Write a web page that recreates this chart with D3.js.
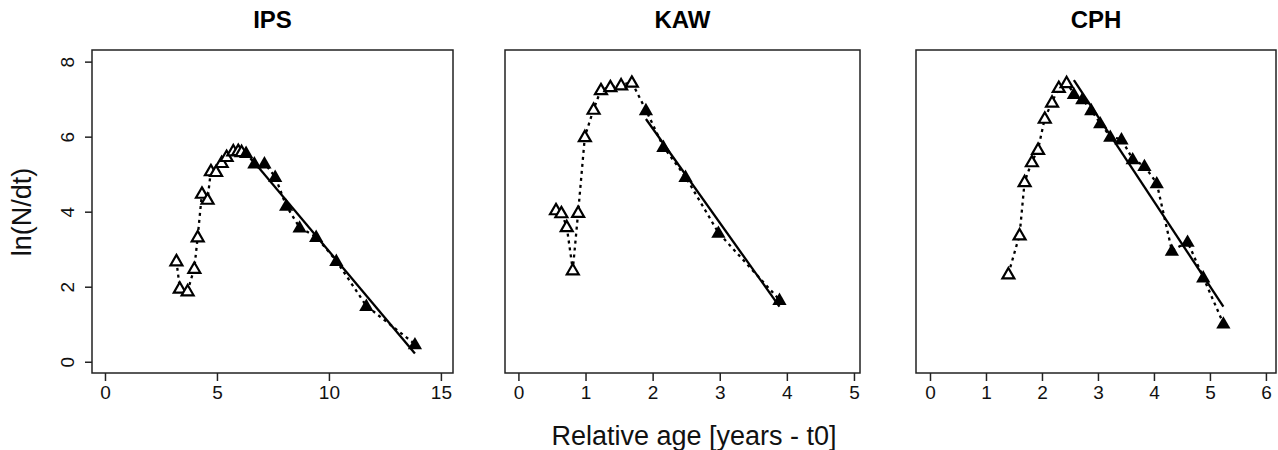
<!DOCTYPE html>
<html>
<head>
<meta charset="utf-8">
<script src="https://cdn.jsdelivr.net/npm/d3@7/dist/d3.min.js"></script>
<style>
  body { margin: 0; background: #fff; }
  svg { font-family: "Liberation Sans", Arial, sans-serif; }
</style>
</head>
<body>
<svg id="chart" width="1278" height="450"></svg>
<script>
// panel names
const panelNames = ["IPS", "KAW", "CPH"];

// IPS: open triangles (rising limb), filled triangles (descending limb), fitted line ends
const ipsOpenX = [3.19, 3.34, 3.69, 3.99, 4.14, 4.33, 4.58, 4.73, 4.96, 5.21, 5.43, 5.73, 5.95, 6.1];
const ipsOpenY = [2.69, 1.96, 1.89, 2.49, 3.33, 4.49, 4.33, 5.09, 5.07, 5.31, 5.47, 5.62, 5.63, 5.6];
const ipsFillX = [6.3, 6.67, 7.12, 7.6, 8.09, 8.69, 9.43, 10.33, 11.67, 13.84];
const ipsFillY = [5.57, 5.29, 5.29, 4.93, 4.16, 3.58, 3.33, 2.69, 1.49, 0.47];
const ipsFitX = [6.52, 13.84];
const ipsFitY = [5.42, 0.22];

// KAW
const kawOpenX = [0.56, 0.64, 0.72, 0.81, 0.89, 0.99, 1.12, 1.23, 1.37, 1.53, 1.69];
const kawOpenY = [4.05, 3.97, 3.6, 2.45, 3.98, 6.0, 6.73, 7.25, 7.33, 7.38, 7.45];
const kawFillX = [1.9, 2.16, 2.49, 2.98, 3.89];
const kawFillY = [6.71, 5.73, 4.93, 3.44, 1.65];
const kawFitX = [1.9, 3.89];
const kawFitY = [6.47, 1.47];

// CPH
const cphOpenX = [1.4, 1.6, 1.69, 1.82, 1.93, 2.05, 2.18, 2.3, 2.44];
const cphOpenY = [2.34, 3.38, 4.8, 5.33, 5.66, 6.49, 6.92, 7.31, 7.44];
const cphFillX = [2.57, 2.72, 2.88, 3.04, 3.22, 3.42, 3.62, 3.83, 4.05, 4.32, 4.6, 4.88, 5.24];
const cphFillY = [7.14, 7.0, 6.71, 6.36, 6.0, 5.93, 5.4, 5.22, 4.76, 2.96, 3.2, 2.25, 1.02];
const cphFitX = [2.57, 5.24];
const cphFitY = [7.51, 1.47];

// axis ticks
const ipsTicks = [0, 5, 10, 15];
const kawTicks = [0, 1, 2, 3, 4, 5];
const cphTicks = [0, 1, 2, 3, 4, 5, 6];
const yTicks = [0, 2, 4, 6, 8];

const zip = (xs, ys) => xs.map((x, i) => ({ x: x, y: ys[i] }));

const panels = [
  { name: panelNames[0], open: zip(ipsOpenX, ipsOpenY), fill: zip(ipsFillX, ipsFillY),
    fit: zip(ipsFitX, ipsFitY), ticks: ipsTicks, xDomain: [-0.58, 15.54], left: 92, right: 453 },
  { name: panelNames[1], open: zip(kawOpenX, kawOpenY), fill: zip(kawFillX, kawFillY),
    fit: zip(kawFitX, kawFitY), ticks: kawTicks, xDomain: [-0.2, 5.09], left: 505, right: 860 },
  { name: panelNames[2], open: zip(cphOpenX, cphOpenY), fill: zip(cphFillX, cphFillY),
    fit: zip(cphFitX, cphFitY), ticks: cphTicks, xDomain: [-0.25, 6.18], left: 916, right: 1276 }
];

const plotTop = 50, plotBottom = 373;
const svg = d3.select("#chart");

const y = d3.scaleLinear().domain([-0.3, 8.31]).range([plotBottom, plotTop]);

const triangle = d3.symbol().type(d3.symbolTriangle);

panels.forEach((p, i) => {
  const x = d3.scaleLinear().domain(p.xDomain).range([p.left, p.right]);
  const g = svg.append("g");

  // dotted line through all points
  const all = p.open.concat(p.fill);
  const line = d3.line().x(d => x(d.x)).y(d => y(d.y));
  g.append("path")
    .attr("d", line(all))
    .attr("fill", "none")
    .attr("stroke", "#000")
    .attr("stroke-width", 2.3)
    .attr("stroke-dasharray", "3,4");

  // regression line
  g.append("path")
    .attr("d", line(p.fit))
    .attr("fill", "none")
    .attr("stroke", "#000")
    .attr("stroke-width", 2.3);

  // open triangles
  g.selectAll(".open").data(p.open).enter().append("path")
    .attr("class", "open")
    .attr("transform", d => `translate(${x(d.x)},${y(d.y) + 1})`)
    .attr("d", triangle.size(62))
    .attr("fill", "#fff")
    .attr("stroke", "#000")
    .attr("stroke-width", 2.2);

  // filled triangles
  g.selectAll(".fill").data(p.fill).enter().append("path")
    .attr("class", "fill")
    .attr("transform", d => `translate(${x(d.x)},${y(d.y) + 1})`)
    .attr("d", triangle.size(88))
    .attr("fill", "#000");

  // box
  g.append("rect")
    .attr("x", p.left).attr("y", plotTop)
    .attr("width", p.right - p.left).attr("height", plotBottom - plotTop)
    .attr("fill", "none")
    .attr("stroke", "#222")
    .attr("stroke-width", 1.5);

  // x axis
  const xa = g.append("g")
    .attr("transform", `translate(0,${plotBottom})`)
    .call(d3.axisBottom(x).tickValues(p.ticks).tickSize(8).tickPadding(5).tickFormat(d3.format("d")));
  xa.select(".domain").remove();
  xa.selectAll("line").attr("stroke", "#222").attr("stroke-width", 1.5);
  xa.selectAll("text").attr("font-size", 19).attr("fill", "#111")
    .attr("font-family", "Liberation Sans, Arial, sans-serif");

  // title
  svg.append("text")
    .attr("x", (p.left + p.right) / 2)
    .attr("y", 28)
    .attr("text-anchor", "middle")
    .attr("font-weight", "bold")
    .attr("font-size", 24)
    .text(p.name);

  // y axis only on first panel
  if (i === 0) {
    const ya = g.append("g")
      .attr("transform", `translate(${p.left},0)`)
      .call(d3.axisLeft(y).tickValues(yTicks).tickSize(7).tickFormat(d3.format("d")));
    ya.select(".domain").remove();
    ya.selectAll("line").attr("stroke", "#222").attr("stroke-width", 1.5);
    ya.selectAll("text")
      .attr("font-size", 19).attr("fill", "#111")
      .attr("font-family", "Liberation Sans, Arial, sans-serif")
      .attr("x", null)
      .attr("text-anchor", "middle")
      .attr("transform", "translate(-25,0) rotate(-90)")
      .attr("dy", "0.35em");
  }
});

// axis labels
svg.append("text")
  .attr("x", 694)
  .attr("y", 445)
  .attr("text-anchor", "middle")
  .attr("font-size", 27)
  .attr("fill", "#111")
  .text("Relative age [years - t0]");

svg.append("text")
  .attr("transform", "translate(31,212) rotate(-90)")
  .attr("text-anchor", "middle")
  .attr("font-size", 27)
  .attr("fill", "#111")
  .text("ln(N/dt)");
</script>
</body>
</html>
